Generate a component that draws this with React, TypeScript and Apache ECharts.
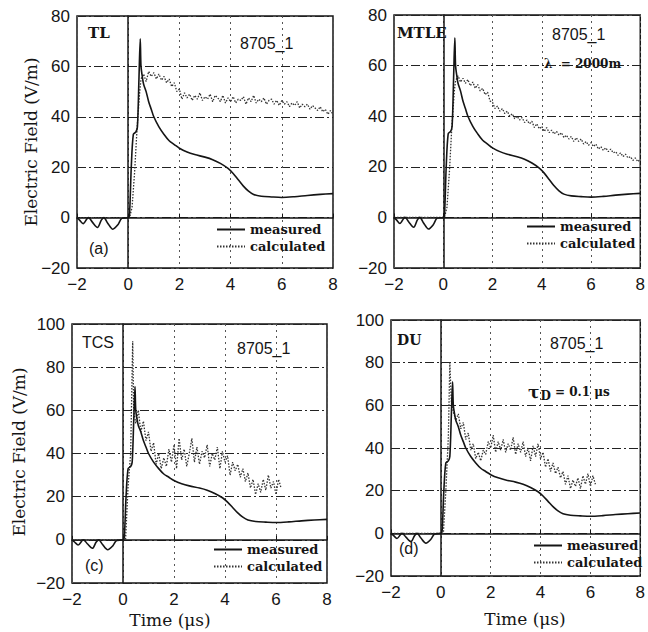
import React, { useEffect, useRef } from "react";
import * as echarts from "echarts";

// Measured field waveform (time in µs, field in V/m), shared by all four panels
const MEASURED: [number, number][] = [
  [-2, 0], [-1.9, -1], [-1.76, -2.4], [-1.6, -0.3], [-1.55, 0], [-1.4, -1.8], [-1.2, -3.9],
  [-1.05, -1], [-0.95, 0], [-0.8, -2.2], [-0.6, -4.6], [-0.4, -2.8], [-0.25, -0.3], [0, 0],
  [0.05, 1], [0.12, 20], [0.2, 33], [0.3, 34], [0.36, 36], [0.42, 55], [0.47, 71], [0.5, 60],
  [0.55, 56], [0.6, 53], [0.7, 50], [0.8, 46], [0.9, 43], [1.0, 40], [1.2, 36], [1.4, 33],
  [1.6, 30.5], [1.8, 29], [2.0, 27.5], [2.3, 26], [2.6, 25], [3.0, 24], [3.3, 23], [3.6, 21.5],
  [3.9, 19.5], [4.1, 17.5], [4.3, 15], [4.5, 12.5], [4.7, 10.5], [4.9, 9.2], [5.2, 8.5],
  [5.6, 8.2], [6.0, 8], [6.5, 8.3], [7.0, 8.8], [7.5, 9.2], [8, 9.5],
];

// Sample times of the calculated fields after the initial rise (µs)
const CALC_T = [
  0.5, 0.6, 0.7, 0.8, 0.9, 1.0, 1.1, 1.2, 1.3, 1.4, 1.5, 1.6, 1.7, 1.8, 1.9, 2.0,
  2.1, 2.2, 2.3, 2.4, 2.5, 2.6, 2.7, 2.8, 2.9, 3.0, 3.1, 3.2, 3.3, 3.4, 3.5, 3.6,
  3.7, 3.8, 3.9, 4.0, 4.1, 4.2, 4.3, 4.4, 4.5, 4.6, 4.7, 4.8, 4.9, 5.0, 5.1, 5.2,
  5.3, 5.4, 5.5, 5.6, 5.7, 5.8, 5.9, 6.0, 6.1, 6.2, 6.3, 6.4, 6.5, 6.6, 6.7, 6.8,
  6.9, 7.0, 7.1, 7.2, 7.3, 7.4, 7.5, 7.6, 7.7, 7.8, 7.9, 8.0,
];

// Onset of each calculated field, before CALC_T begins
const TL_RISE: [number, number][] = [[-2, 0], [0.05, 0], [0.15, 4], [0.25, 18], [0.35, 36], [0.45, 50]];
const MTLE_RISE: [number, number][] = [[-2, 0], [0.05, 0], [0.15, 4], [0.25, 18], [0.35, 36], [0.45, 50]];
const TCS_RISE: [number, number][] = [[-2, 0], [0.1, 0], [0.2, 25], [0.3, 40], [0.38, 92], [0.42, 60]];
const DU_RISE: [number, number][] = [[-2, 0], [0.1, 0], [0.2, 20], [0.3, 45], [0.36, 80], [0.42, 62]];

// Calculated field values at CALC_T
const TL_CALC = [
  55, 57, 54, 58, 56, 57.5, 55, 57, 54.5, 56, 53.5, 55, 52, 53.5, 50, 51,
  47, 49.5, 47.5, 49, 46.5, 48.5, 47, 49.5, 46.5, 48, 47, 49, 46, 48.5, 47.5, 46,
  48.5, 45.5, 47.5, 46, 48, 45.5, 47, 46.5, 48, 45, 47.5, 46, 48.5, 45.5, 47, 46,
  47.5, 45, 46.5, 47, 45, 46.5, 44.5, 46.5, 45, 46, 44, 45.5, 44.5, 46, 43.5, 45,
  44, 45, 43, 44.5, 43.5, 42.5, 44, 42, 43, 41, 42.5, 41,
];
const MTLE_CALC = [
  54, 56, 53.5, 55, 53, 54.5, 52, 53.5, 51, 52.5, 50, 51, 48.5, 49.5, 46, 45.5,
  43, 44, 42, 43, 41, 42, 40, 41, 39, 40, 38.5, 39.5, 37.5, 38.5, 37, 38,
  35.5, 37, 35, 36, 34, 35.5, 33.5, 34.5, 33, 34, 32.5, 33.5, 31.5, 32.5, 31, 32,
  30, 31.5, 30, 31, 29, 30, 28.5, 29.5, 28, 29, 27, 28, 26.5, 27.5, 26, 27,
  25.5, 26, 24.5, 25.5, 24, 25, 23.5, 24, 22.5, 23.5, 22, 23,
];
const TCS_CALC = [
  54, 60, 50, 55, 46, 50, 41, 45, 35, 40, 33, 38, 34, 42, 36, 44,
  33, 47, 37, 42, 34, 40, 47, 36, 43, 35, 41, 38, 44, 34, 40, 37,
  43, 33, 41, 36, 39, 30, 36, 32, 35, 29, 33, 27, 31, 24, 28, 21,
  26, 22, 28, 23, 30, 24, 27, 21, 28, 24,
];
const DU_CALC = [
  57, 53, 56, 49, 52, 44, 47, 39, 42, 35, 38, 34, 39, 37, 43, 40,
  46, 38, 43, 39, 44, 38, 42, 39, 45, 37, 42, 38, 43, 36, 40, 34,
  41, 36, 42, 35, 38, 31, 35, 29, 33, 28, 31, 26, 29, 23, 27, 21,
  25, 22, 26, 21, 27, 23, 28, 22, 27, 23,
];

const X_TICKS = [-2, 0, 2, 4, 6, 8];
const Y_MAX_TOP = 80;
const Y_MAX_BOTTOM = 100;
const Y_MIN = -20;

const PANELS = [
  { rise: TL_RISE, calc: TL_CALC, yMax: Y_MAX_TOP, grid: { left: 77, top: 16, width: 256, height: 252 } },
  { rise: MTLE_RISE, calc: MTLE_CALC, yMax: Y_MAX_TOP, grid: { left: 394, top: 15, width: 251, height: 253 } },
  { rise: TCS_RISE, calc: TCS_CALC, yMax: Y_MAX_BOTTOM, grid: { left: 72, top: 324, width: 255, height: 259 } },
  { rise: DU_RISE, calc: DU_CALC, yMax: Y_MAX_BOTTOM, grid: { left: 391, top: 320, width: 251, height: 256 } },
];

const INK = "#151515";
const SANS = "'Liberation Sans', Arial, sans-serif";
const SERIF = "'DejaVu Serif', 'Liberation Serif', serif";

const minus = (v: number) => String(v).replace("-", "\u2212");

function calcPoints(rise: [number, number][], values: number[]): [number, number][] {
  return rise.concat(values.map((v, i) => [CALC_T[i], v] as [number, number]));
}

function buildOption() {
  const grid = PANELS.map((p) => ({
    ...p.grid,
    show: true,
    borderColor: INK,
    borderWidth: 1.5,
    backgroundColor: "transparent",
  }));
  const xAxis = PANELS.map((_, i) => ({
    type: "value",
    gridIndex: i,
    min: X_TICKS[0],
    max: X_TICKS[X_TICKS.length - 1],
    interval: 2,
    axisLine: { show: true, lineStyle: { color: INK, width: 1.5 } },
    axisTick: { show: true, inside: true, length: 4, lineStyle: { color: INK } },
    axisLabel: { color: INK, fontFamily: SANS, fontSize: 17, margin: 8, formatter: minus },
    splitLine: { show: true, lineStyle: { color: "#555", width: 1, type: [2, 4] } },
  }));
  const yAxis = PANELS.map((p, i) => ({
    type: "value",
    gridIndex: i,
    min: Y_MIN,
    max: p.yMax,
    interval: 20,
    axisLine: { show: true, lineStyle: { color: INK, width: 1.5 } },
    axisTick: { show: false },
    axisLabel: { color: INK, fontFamily: SANS, fontSize: 17, margin: 7, formatter: minus },
    splitLine: { show: true, lineStyle: { color: "#222", width: 1, type: [9, 3, 2, 3] } },
  }));
  const series: any[] = [];
  PANELS.forEach((p, i) => {
    series.push({
      name: "measured",
      type: "line",
      xAxisIndex: i,
      yAxisIndex: i,
      data: MEASURED,
      symbol: "none",
      smooth: 0.3,
      lineStyle: { color: INK, width: 1.6, type: "solid" },
      itemStyle: { color: INK },
      z: 3,
    });
    series.push({
      name: "calculated",
      type: "line",
      xAxisIndex: i,
      yAxisIndex: i,
      data: calcPoints(p.rise, p.calc),
      symbol: "none",
      lineStyle: { color: "#333", width: 1.3, type: [1.5, 1.5] },
      itemStyle: { color: "#333" },
      z: 2,
    });
  });

  const legendPos = [
    { left: 211, top: 218 },
    { left: 521, top: 215 },
    { left: 208, top: 538 },
    { left: 528, top: 534 },
  ];
  const legend = legendPos.map((pos) => ({
    ...pos,
    orient: "vertical",
    itemWidth: 28,
    itemHeight: 10,
    itemGap: 4,
    selectedMode: false,
    data: ["measured", "calculated"],
    itemStyle: { opacity: 0 },
    textStyle: { color: INK, fontFamily: SERIF, fontSize: 13, fontWeight: "bold" },
  }));

  const txt = (x: number, y: number, text: string, font: string, size: number, weight = "normal", align = "left") => ({
    type: "text",
    x,
    y,
    style: { text, fill: INK, font: `${weight} ${size}px ${font}`, textAlign: align, textVerticalAlign: "middle" },
    z: 10,
  });

  const graphic: any[] = [
    // panel (a)
    txt(88, 33, "TL", SERIF, 15, "bold"),
    txt(240, 43, "8705_1", SANS, 16),
    txt(89, 248, "(a)", SANS, 16),
    // panel (b)
    txt(397, 33, "MTLE", SERIF, 15, "bold"),
    txt(552, 34, "8705_1", SANS, 16),
    txt(544, 64, "\u03bb  = 2000m", SERIF, 12, "bold"),
    // panel (c)
    txt(82, 342, "TCS", SANS, 16),
    txt(237, 348, "8705_1", SANS, 16),
    txt(85, 565, "(c)", SANS, 16),
    // panel (d)
    txt(397, 340, "DU", SERIF, 14, "bold"),
    txt(550, 343, "8705_1", SANS, 16),
    {
      type: "text",
      x: 528,
      y: 392,
      style: {
        text: "{t|\u03c4}{s|D}{r| = 0.1 \u03bcs}",
        fill: INK,
        textVerticalAlign: "middle",
        rich: {
          t: { fontFamily: SERIF, fontSize: 17, fontWeight: "bold", fill: INK },
          s: { fontFamily: SERIF, fontSize: 12, fontWeight: "bold", fill: INK, padding: [8, 0, 0, 1] },
          r: { fontFamily: SERIF, fontSize: 12, fontWeight: "bold", fill: INK },
        },
      },
      z: 10,
    },
    txt(399, 548, "(d)", SANS, 16),
    // axis titles
    {
      type: "text",
      x: 31,
      y: 142,
      rotation: Math.PI / 2,
      style: { text: "Electric Field (V/m)", fill: INK, font: `normal 17px ${SERIF}`, textAlign: "center", textVerticalAlign: "middle" },
    },
    {
      type: "text",
      x: 19,
      y: 452,
      rotation: Math.PI / 2,
      style: { text: "Electric Field (V/m)", fill: INK, font: `normal 17px ${SERIF}`, textAlign: "center", textVerticalAlign: "middle" },
    },
    txt(170, 620, "Time (\u03bcs)", SERIF, 17, "normal", "center"),
    txt(525, 619, "Time (\u03bcs)", SERIF, 17, "normal", "center"),
  ];

  return {
    animation: false,
    backgroundColor: "#ffffff",
    grid,
    xAxis,
    yAxis,
    series,
    legend,
    graphic,
  };
}

export default function App() {
  const ref = useRef<HTMLDivElement>(null);
  useEffect(() => {
    if (!ref.current) return;
    const chart = echarts.init(ref.current, undefined, { renderer: "svg" });
    chart.setOption(buildOption() as any);
    return () => chart.dispose();
  }, []);
  return (
    <div
      ref={ref}
      style={{ position: "fixed", left: 0, top: 0, width: 648, height: 632, background: "#fff" }}
    />
  );
}
